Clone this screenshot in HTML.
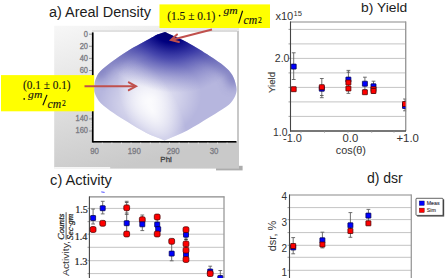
<!DOCTYPE html>
<html><head><meta charset="utf-8"><style>
html,body{margin:0;padding:0;background:#fff;width:445px;height:278px;overflow:hidden;font-family:"Liberation Sans",sans-serif;}
svg{display:block;}
</style></head><body>
<svg width="445" height="278" viewBox="0 0 445 278">
<defs>
 <linearGradient id="gbg" x1="0" y1="0" x2="0.35" y2="1">
  <stop offset="0" stop-color="#f7f7f7"/>
  <stop offset="1" stop-color="#c9c9c9"/>
 </linearGradient>
 <radialGradient id="gdark" cx="0" cy="0" r="1" gradientUnits="userSpaceOnUse" gradientTransform="translate(169 30) rotate(14) scale(76 62)">
  <stop offset="0" stop-color="#00006a" stop-opacity="1"/>
  <stop offset="0.2" stop-color="#00007e" stop-opacity="1"/>
  <stop offset="0.45" stop-color="#181898" stop-opacity="0.7"/>
  <stop offset="0.75" stop-color="#4040a8" stop-opacity="0.3"/>
  <stop offset="1" stop-color="#6060b8" stop-opacity="0"/>
 </radialGradient>
 <radialGradient id="gwhite" cx="0" cy="0" r="1" gradientUnits="userSpaceOnUse" gradientTransform="translate(152 110) rotate(-28) scale(26 56)">
  <stop offset="0" stop-color="#ffffff" stop-opacity="0.85"/>
  <stop offset="0.5" stop-color="#ffffff" stop-opacity="0.45"/>
  <stop offset="1" stop-color="#ffffff" stop-opacity="0"/>
 </radialGradient>
 <radialGradient id="gwhite2" cx="0" cy="0" r="1" gradientUnits="userSpaceOnUse" gradientTransform="translate(150 100) rotate(-15) scale(52 40)">
  <stop offset="0" stop-color="#ffffff" stop-opacity="0.85"/>
  <stop offset="1" stop-color="#ffffff" stop-opacity="0"/>
 </radialGradient>
 <filter id="blur6" x="-20%" y="-20%" width="140%" height="140%"><feGaussianBlur stdDeviation="5"/></filter>
 <clipPath id="clipb"><rect x="290" y="20" width="116" height="115"/></clipPath>
 <clipPath id="clipc"><rect x="89" y="195" width="135" height="90"/></clipPath>
</defs>
<text x="49" y="17" font-family="Liberation Sans" font-size="14" fill="#1c1c1c" text-anchor="start" font-weight="normal" font-style="normal" textLength="102" lengthAdjust="spacingAndGlyphs" >a) Areal Density</text>
<rect x="216" y="165.8" width="26.6" height="4.6" fill="#adadad" />
<rect x="54.2" y="25.8" width="184.8" height="142.8" fill="url(#gbg)" />
<rect x="54.2" y="167.2" width="56" height="1.4" fill="#ffffff" />
<rect x="92.5" y="32" width="144.5" height="110" fill="#ffffff" />
<line x1="92" y1="31" x2="237" y2="31" stroke="#d0d0d0" stroke-width="1" />
<rect x="237" y="31" width="2" height="111" fill="#c8c8c8" />
<clipPath id="clipd"><path d="M165,32 C167.00,32.93 167.25,33.03 171,34.8 C174.75,36.57 181.05,39.07 187.5,42.6 C193.95,46.13 203.57,52.07 209.7,56 C215.83,59.93 220.53,63.03 224.3,66.2 C228.07,69.37 230.32,71.70 232.3,75 C234.28,78.30 235.58,82.87 236.2,86 C236.82,89.13 236.88,91.02 236,93.8 C235.12,96.58 233.37,100.00 230.9,102.7 C228.43,105.40 224.98,107.43 221.2,110 C217.42,112.57 213.77,114.73 208.2,118.1 C202.63,121.47 195.08,126.48 187.8,130.2 C180.52,133.92 172.27,137.00 164.5,140.4 C158.33,137.83 152.25,135.85 146,132.7 C139.75,129.55 132.40,124.77 127,121.5 C121.60,118.23 118.00,116.18 113.6,113.1 C109.20,110.02 103.72,106.25 100.6,103 C97.48,99.75 95.97,96.27 94.9,93.6 C93.83,90.93 94.07,89.42 94.2,87 C94.33,84.58 94.65,81.77 95.7,79.1 C96.75,76.43 97.40,74.18 100.5,71 C103.60,67.82 109.18,63.70 114.3,60 C119.42,56.30 124.63,52.73 131.2,48.8 C137.77,44.87 149.07,38.87 153.7,36.4 C158.33,33.93 157.12,34.73 159,34 C160.88,33.27 163.00,32.67 165,32 Z"/></clipPath>
<path d="M165,32 C167.00,32.93 167.25,33.03 171,34.8 C174.75,36.57 181.05,39.07 187.5,42.6 C193.95,46.13 203.57,52.07 209.7,56 C215.83,59.93 220.53,63.03 224.3,66.2 C228.07,69.37 230.32,71.70 232.3,75 C234.28,78.30 235.58,82.87 236.2,86 C236.82,89.13 236.88,91.02 236,93.8 C235.12,96.58 233.37,100.00 230.9,102.7 C228.43,105.40 224.98,107.43 221.2,110 C217.42,112.57 213.77,114.73 208.2,118.1 C202.63,121.47 195.08,126.48 187.8,130.2 C180.52,133.92 172.27,137.00 164.5,140.4 C158.33,137.83 152.25,135.85 146,132.7 C139.75,129.55 132.40,124.77 127,121.5 C121.60,118.23 118.00,116.18 113.6,113.1 C109.20,110.02 103.72,106.25 100.6,103 C97.48,99.75 95.97,96.27 94.9,93.6 C93.83,90.93 94.07,89.42 94.2,87 C94.33,84.58 94.65,81.77 95.7,79.1 C96.75,76.43 97.40,74.18 100.5,71 C103.60,67.82 109.18,63.70 114.3,60 C119.42,56.30 124.63,52.73 131.2,48.8 C137.77,44.87 149.07,38.87 153.7,36.4 C158.33,33.93 157.12,34.73 159,34 C160.88,33.27 163.00,32.67 165,32 Z" fill="#b6b6de"/>
<path d="M165,32 C167.00,32.93 167.25,33.03 171,34.8 C174.75,36.57 181.05,39.07 187.5,42.6 C193.95,46.13 203.57,52.07 209.7,56 C215.83,59.93 220.53,63.03 224.3,66.2 C228.07,69.37 230.32,71.70 232.3,75 C234.28,78.30 235.58,82.87 236.2,86 C236.82,89.13 236.88,91.02 236,93.8 C235.12,96.58 233.37,100.00 230.9,102.7 C228.43,105.40 224.98,107.43 221.2,110 C217.42,112.57 213.77,114.73 208.2,118.1 C202.63,121.47 195.08,126.48 187.8,130.2 C180.52,133.92 172.27,137.00 164.5,140.4 C158.33,137.83 152.25,135.85 146,132.7 C139.75,129.55 132.40,124.77 127,121.5 C121.60,118.23 118.00,116.18 113.6,113.1 C109.20,110.02 103.72,106.25 100.6,103 C97.48,99.75 95.97,96.27 94.9,93.6 C93.83,90.93 94.07,89.42 94.2,87 C94.33,84.58 94.65,81.77 95.7,79.1 C96.75,76.43 97.40,74.18 100.5,71 C103.60,67.82 109.18,63.70 114.3,60 C119.42,56.30 124.63,52.73 131.2,48.8 C137.77,44.87 149.07,38.87 153.7,36.4 C158.33,33.93 157.12,34.73 159,34 C160.88,33.27 163.00,32.67 165,32 Z" fill="url(#gwhite2)"/>
<path d="M165,32 C167.00,32.93 167.25,33.03 171,34.8 C174.75,36.57 181.05,39.07 187.5,42.6 C193.95,46.13 203.57,52.07 209.7,56 C215.83,59.93 220.53,63.03 224.3,66.2 C228.07,69.37 230.32,71.70 232.3,75 C234.28,78.30 235.58,82.87 236.2,86 C236.82,89.13 236.88,91.02 236,93.8 C235.12,96.58 233.37,100.00 230.9,102.7 C228.43,105.40 224.98,107.43 221.2,110 C217.42,112.57 213.77,114.73 208.2,118.1 C202.63,121.47 195.08,126.48 187.8,130.2 C180.52,133.92 172.27,137.00 164.5,140.4 C158.33,137.83 152.25,135.85 146,132.7 C139.75,129.55 132.40,124.77 127,121.5 C121.60,118.23 118.00,116.18 113.6,113.1 C109.20,110.02 103.72,106.25 100.6,103 C97.48,99.75 95.97,96.27 94.9,93.6 C93.83,90.93 94.07,89.42 94.2,87 C94.33,84.58 94.65,81.77 95.7,79.1 C96.75,76.43 97.40,74.18 100.5,71 C103.60,67.82 109.18,63.70 114.3,60 C119.42,56.30 124.63,52.73 131.2,48.8 C137.77,44.87 149.07,38.87 153.7,36.4 C158.33,33.93 157.12,34.73 159,34 C160.88,33.27 163.00,32.67 165,32 Z" fill="url(#gwhite)"/>
<g clip-path="url(#clipd)"><path d="M95.7,79.1 C97.30,76.40 97.40,74.18 100.5,71 C103.60,67.82 109.18,63.70 114.3,60 C119.42,56.30 124.63,52.73 131.2,48.8 C137.77,44.87 149.07,38.87 153.7,36.4 C158.33,33.93 157.12,34.73 159,34 C160.88,33.27 163.00,32.67 165,32 C167.00,32.93 167.25,33.03 171,34.8 C174.75,36.57 181.05,39.07 187.5,42.6 C193.95,46.13 203.57,52.07 209.7,56 C215.83,59.93 220.53,63.03 224.3,66.2 C228.07,69.37 230.32,71.70 232.3,75 C234.28,78.30 234.90,82.33 236.2,86" fill="none" stroke="#5050a8" stroke-width="14" opacity="0.5" filter="url(#blur6)"/></g>
<path d="M165,32 C167.00,32.93 167.25,33.03 171,34.8 C174.75,36.57 181.05,39.07 187.5,42.6 C193.95,46.13 203.57,52.07 209.7,56 C215.83,59.93 220.53,63.03 224.3,66.2 C228.07,69.37 230.32,71.70 232.3,75 C234.28,78.30 235.58,82.87 236.2,86 C236.82,89.13 236.88,91.02 236,93.8 C235.12,96.58 233.37,100.00 230.9,102.7 C228.43,105.40 224.98,107.43 221.2,110 C217.42,112.57 213.77,114.73 208.2,118.1 C202.63,121.47 195.08,126.48 187.8,130.2 C180.52,133.92 172.27,137.00 164.5,140.4 C158.33,137.83 152.25,135.85 146,132.7 C139.75,129.55 132.40,124.77 127,121.5 C121.60,118.23 118.00,116.18 113.6,113.1 C109.20,110.02 103.72,106.25 100.6,103 C97.48,99.75 95.97,96.27 94.9,93.6 C93.83,90.93 94.07,89.42 94.2,87 C94.33,84.58 94.65,81.77 95.7,79.1 C96.75,76.43 97.40,74.18 100.5,71 C103.60,67.82 109.18,63.70 114.3,60 C119.42,56.30 124.63,52.73 131.2,48.8 C137.77,44.87 149.07,38.87 153.7,36.4 C158.33,33.93 157.12,34.73 159,34 C160.88,33.27 163.00,32.67 165,32 Z" fill="url(#gdark)"/>
<rect x="91.9" y="32.4" width="1.7" height="110.2" fill="#000" />
<rect x="92" y="141" width="144.5" height="1.6" fill="#000" />
<line x1="89" y1="34.2" x2="92" y2="34.2" stroke="#808080" stroke-width="0.8" />
<line x1="90.3" y1="36.620000000000005" x2="92" y2="36.620000000000005" stroke="#e4e4e4" stroke-width="0.7" />
<line x1="90.3" y1="39.040000000000006" x2="92" y2="39.040000000000006" stroke="#e4e4e4" stroke-width="0.7" />
<line x1="90.3" y1="41.46" x2="92" y2="41.46" stroke="#e4e4e4" stroke-width="0.7" />
<line x1="90.3" y1="43.88" x2="92" y2="43.88" stroke="#e4e4e4" stroke-width="0.7" />
<line x1="89" y1="46.300000000000004" x2="92" y2="46.300000000000004" stroke="#808080" stroke-width="0.8" />
<line x1="90.3" y1="48.72" x2="92" y2="48.72" stroke="#e4e4e4" stroke-width="0.7" />
<line x1="90.3" y1="51.14" x2="92" y2="51.14" stroke="#e4e4e4" stroke-width="0.7" />
<line x1="90.3" y1="53.56" x2="92" y2="53.56" stroke="#e4e4e4" stroke-width="0.7" />
<line x1="90.3" y1="55.980000000000004" x2="92" y2="55.980000000000004" stroke="#e4e4e4" stroke-width="0.7" />
<line x1="89" y1="58.400000000000006" x2="92" y2="58.400000000000006" stroke="#808080" stroke-width="0.8" />
<line x1="90.3" y1="60.82" x2="92" y2="60.82" stroke="#e4e4e4" stroke-width="0.7" />
<line x1="90.3" y1="63.24" x2="92" y2="63.24" stroke="#e4e4e4" stroke-width="0.7" />
<line x1="90.3" y1="65.66" x2="92" y2="65.66" stroke="#e4e4e4" stroke-width="0.7" />
<line x1="90.3" y1="68.08" x2="92" y2="68.08" stroke="#e4e4e4" stroke-width="0.7" />
<line x1="89" y1="70.5" x2="92" y2="70.5" stroke="#808080" stroke-width="0.8" />
<line x1="90.3" y1="72.92" x2="92" y2="72.92" stroke="#e4e4e4" stroke-width="0.7" />
<line x1="90.3" y1="75.34" x2="92" y2="75.34" stroke="#e4e4e4" stroke-width="0.7" />
<line x1="90.3" y1="77.76" x2="92" y2="77.76" stroke="#e4e4e4" stroke-width="0.7" />
<line x1="90.3" y1="80.18" x2="92" y2="80.18" stroke="#e4e4e4" stroke-width="0.7" />
<line x1="89" y1="82.6" x2="92" y2="82.6" stroke="#808080" stroke-width="0.8" />
<line x1="90.3" y1="85.02000000000001" x2="92" y2="85.02000000000001" stroke="#e4e4e4" stroke-width="0.7" />
<line x1="90.3" y1="87.44" x2="92" y2="87.44" stroke="#e4e4e4" stroke-width="0.7" />
<line x1="90.3" y1="89.86" x2="92" y2="89.86" stroke="#e4e4e4" stroke-width="0.7" />
<line x1="90.3" y1="92.28" x2="92" y2="92.28" stroke="#e4e4e4" stroke-width="0.7" />
<line x1="89" y1="94.7" x2="92" y2="94.7" stroke="#808080" stroke-width="0.8" />
<line x1="90.3" y1="97.12" x2="92" y2="97.12" stroke="#e4e4e4" stroke-width="0.7" />
<line x1="90.3" y1="99.54" x2="92" y2="99.54" stroke="#e4e4e4" stroke-width="0.7" />
<line x1="90.3" y1="101.96" x2="92" y2="101.96" stroke="#e4e4e4" stroke-width="0.7" />
<line x1="90.3" y1="104.38" x2="92" y2="104.38" stroke="#e4e4e4" stroke-width="0.7" />
<line x1="89" y1="106.8" x2="92" y2="106.8" stroke="#808080" stroke-width="0.8" />
<line x1="90.3" y1="109.22" x2="92" y2="109.22" stroke="#e4e4e4" stroke-width="0.7" />
<line x1="90.3" y1="111.64" x2="92" y2="111.64" stroke="#e4e4e4" stroke-width="0.7" />
<line x1="90.3" y1="114.06" x2="92" y2="114.06" stroke="#e4e4e4" stroke-width="0.7" />
<line x1="90.3" y1="116.48" x2="92" y2="116.48" stroke="#e4e4e4" stroke-width="0.7" />
<line x1="89" y1="118.9" x2="92" y2="118.9" stroke="#808080" stroke-width="0.8" />
<line x1="90.3" y1="121.32000000000001" x2="92" y2="121.32000000000001" stroke="#e4e4e4" stroke-width="0.7" />
<line x1="90.3" y1="123.74" x2="92" y2="123.74" stroke="#e4e4e4" stroke-width="0.7" />
<line x1="90.3" y1="126.16" x2="92" y2="126.16" stroke="#e4e4e4" stroke-width="0.7" />
<line x1="90.3" y1="128.57999999999998" x2="92" y2="128.57999999999998" stroke="#e4e4e4" stroke-width="0.7" />
<line x1="89" y1="131.0" x2="92" y2="131.0" stroke="#808080" stroke-width="0.8" />
<text x="88" y="36.6" font-family="Liberation Sans" font-size="8.4" fill="#7c7c84" text-anchor="end" font-weight="normal" font-style="normal" textLength="4.15" lengthAdjust="spacingAndGlyphs" stroke="#7c7c84" stroke-width="0.35">0</text>
<text x="88" y="48.7" font-family="Liberation Sans" font-size="8.4" fill="#7c7c84" text-anchor="end" font-weight="normal" font-style="normal" textLength="8.3" lengthAdjust="spacingAndGlyphs" stroke="#7c7c84" stroke-width="0.35">20</text>
<text x="88" y="60.8" font-family="Liberation Sans" font-size="8.4" fill="#7c7c84" text-anchor="end" font-weight="normal" font-style="normal" textLength="8.3" lengthAdjust="spacingAndGlyphs" stroke="#7c7c84" stroke-width="0.35">40</text>
<text x="88" y="72.9" font-family="Liberation Sans" font-size="8.4" fill="#7c7c84" text-anchor="end" font-weight="normal" font-style="normal" textLength="8.3" lengthAdjust="spacingAndGlyphs" stroke="#7c7c84" stroke-width="0.35">60</text>
<text x="88" y="85.0" font-family="Liberation Sans" font-size="8.4" fill="#7c7c84" text-anchor="end" font-weight="normal" font-style="normal" textLength="8.3" lengthAdjust="spacingAndGlyphs" stroke="#7c7c84" stroke-width="0.35">80</text>
<text x="88" y="97.1" font-family="Liberation Sans" font-size="8.4" fill="#7c7c84" text-anchor="end" font-weight="normal" font-style="normal" textLength="12.45" lengthAdjust="spacingAndGlyphs" stroke="#7c7c84" stroke-width="0.35">100</text>
<text x="88" y="109.19999999999999" font-family="Liberation Sans" font-size="8.4" fill="#7c7c84" text-anchor="end" font-weight="normal" font-style="normal" textLength="12.45" lengthAdjust="spacingAndGlyphs" stroke="#7c7c84" stroke-width="0.35">120</text>
<text x="88" y="121.30000000000001" font-family="Liberation Sans" font-size="8.4" fill="#7c7c84" text-anchor="end" font-weight="normal" font-style="normal" textLength="12.45" lengthAdjust="spacingAndGlyphs" stroke="#7c7c84" stroke-width="0.35">140</text>
<text x="88" y="133.4" font-family="Liberation Sans" font-size="8.4" fill="#7c7c84" text-anchor="end" font-weight="normal" font-style="normal" textLength="12.45" lengthAdjust="spacingAndGlyphs" stroke="#7c7c84" stroke-width="0.35">160</text>
<text x="94.5" y="154.2" font-family="Liberation Sans" font-size="9.4" fill="#7c7c84" text-anchor="middle" font-weight="normal" font-style="normal" textLength="8.7" lengthAdjust="spacingAndGlyphs" stroke="#7c7c84" stroke-width="0.35">90</text>
<text x="134.3" y="154.2" font-family="Liberation Sans" font-size="9.4" fill="#7c7c84" text-anchor="middle" font-weight="normal" font-style="normal" textLength="13.05" lengthAdjust="spacingAndGlyphs" stroke="#7c7c84" stroke-width="0.35">190</text>
<text x="173.2" y="154.2" font-family="Liberation Sans" font-size="9.4" fill="#7c7c84" text-anchor="middle" font-weight="normal" font-style="normal" textLength="13.05" lengthAdjust="spacingAndGlyphs" stroke="#7c7c84" stroke-width="0.35">290</text>
<text x="214" y="154.2" font-family="Liberation Sans" font-size="9.4" fill="#7c7c84" text-anchor="middle" font-weight="normal" font-style="normal" textLength="8.7" lengthAdjust="spacingAndGlyphs" stroke="#7c7c84" stroke-width="0.35">30</text>
<line x1="92.7" y1="142.6" x2="92.7" y2="144.2" stroke="#e8e8e8" stroke-width="0.8" />
<line x1="102.3" y1="142.6" x2="102.3" y2="144.2" stroke="#e8e8e8" stroke-width="0.8" />
<line x1="111.9" y1="142.6" x2="111.9" y2="144.2" stroke="#e8e8e8" stroke-width="0.8" />
<line x1="121.5" y1="142.6" x2="121.5" y2="144.2" stroke="#e8e8e8" stroke-width="0.8" />
<line x1="131.1" y1="142.6" x2="131.1" y2="144.2" stroke="#e8e8e8" stroke-width="0.8" />
<line x1="140.7" y1="142.6" x2="140.7" y2="144.2" stroke="#e8e8e8" stroke-width="0.8" />
<line x1="150.3" y1="142.6" x2="150.3" y2="144.2" stroke="#e8e8e8" stroke-width="0.8" />
<line x1="159.9" y1="142.6" x2="159.9" y2="144.2" stroke="#e8e8e8" stroke-width="0.8" />
<line x1="169.5" y1="142.6" x2="169.5" y2="144.2" stroke="#e8e8e8" stroke-width="0.8" />
<line x1="179.1" y1="142.6" x2="179.1" y2="144.2" stroke="#e8e8e8" stroke-width="0.8" />
<line x1="188.7" y1="142.6" x2="188.7" y2="144.2" stroke="#e8e8e8" stroke-width="0.8" />
<line x1="198.3" y1="142.6" x2="198.3" y2="144.2" stroke="#e8e8e8" stroke-width="0.8" />
<line x1="207.89999999999998" y1="142.6" x2="207.89999999999998" y2="144.2" stroke="#e8e8e8" stroke-width="0.8" />
<line x1="217.5" y1="142.6" x2="217.5" y2="144.2" stroke="#e8e8e8" stroke-width="0.8" />
<line x1="227.10000000000002" y1="142.6" x2="227.10000000000002" y2="144.2" stroke="#e8e8e8" stroke-width="0.8" />
<text x="166.1" y="162.2" font-family="Liberation Sans" font-size="7.8" fill="#444" text-anchor="middle" font-weight="normal" font-style="normal" textLength="11.5" lengthAdjust="spacingAndGlyphs" stroke="#444" stroke-width="0.3">Phi</text>
<rect x="159.5" y="4.4" width="110.5" height="23.6" fill="#ffff00" />
<rect x="1" y="75.1" width="93.2" height="36.2" fill="#ffff00" />
<line x1="212" y1="29.5" x2="172.16248404531743" y2="39.702290671321144" stroke="#c0504d" stroke-width="2.1" />
<path d="M177.01,34.44 L171.00,40.00 L178.94,41.99" fill="none" stroke="#c0504d" stroke-width="2" stroke-linejoin="miter" stroke-linecap="round"/>
<line x1="84.5" y1="86.3" x2="134.8" y2="86.3" stroke="#c0504d" stroke-width="2.1" />
<path d="M128.80,90.20 L136.00,86.30 L128.80,82.40" fill="none" stroke="#c0504d" stroke-width="2" stroke-linejoin="miter" stroke-linecap="round"/>
<text x="167.2" y="20.2" font-family="Liberation Serif" font-size="12" fill="#121212" text-anchor="start" font-weight="normal" font-style="normal" textLength="48.2" lengthAdjust="spacingAndGlyphs" stroke="#121212" stroke-width="0.12">(1.5 ± 0.1)</text>
<circle cx="219.6" cy="15.6" r="0.85" fill="#121212"/>
<text x="223.4" y="13.6" font-family="Liberation Serif" font-size="10.8" fill="#121212" text-anchor="start" font-weight="normal" font-style="italic" textLength="14.2" lengthAdjust="spacingAndGlyphs" stroke="#121212" stroke-width="0.12">gm</text>
<line x1="242.6" y1="10.8" x2="238.6" y2="23.4" stroke="#121212" stroke-width="1.2" />
<text x="243.6" y="24.3" font-family="Liberation Serif" font-size="12.2" fill="#121212" text-anchor="start" font-weight="normal" font-style="italic" textLength="13.6" lengthAdjust="spacingAndGlyphs" stroke="#121212" stroke-width="0.12">cm</text>
<text x="257.9" y="23.4" font-family="Liberation Serif" font-size="8" fill="#121212" text-anchor="start" font-weight="normal" font-style="normal" textLength="3.8" lengthAdjust="spacingAndGlyphs" stroke="#121212" stroke-width="0.12">2</text>
<text x="23.1" y="89.2" font-family="Liberation Serif" font-size="12" fill="#121212" text-anchor="start" font-weight="normal" font-style="normal" textLength="47.5" lengthAdjust="spacingAndGlyphs" stroke="#121212" stroke-width="0.12">(0.1 ± 0.1)</text>
<circle cx="24.2" cy="98.9" r="0.85" fill="#121212"/>
<text x="28.1" y="97.7" font-family="Liberation Serif" font-size="10.8" fill="#121212" text-anchor="start" font-weight="normal" font-style="italic" textLength="14.2" lengthAdjust="spacingAndGlyphs" stroke="#121212" stroke-width="0.12">gm</text>
<line x1="47" y1="94.9" x2="42.9" y2="105.2" stroke="#121212" stroke-width="1.2" />
<text x="47.6" y="108.2" font-family="Liberation Serif" font-size="12.2" fill="#121212" text-anchor="start" font-weight="normal" font-style="italic" textLength="13.6" lengthAdjust="spacingAndGlyphs" stroke="#121212" stroke-width="0.12">cm</text>
<text x="61.9" y="106.4" font-family="Liberation Serif" font-size="8" fill="#121212" text-anchor="start" font-weight="normal" font-style="normal" textLength="3.8" lengthAdjust="spacingAndGlyphs" stroke="#121212" stroke-width="0.12">2</text>
<text x="361" y="11.8" font-family="Liberation Sans" font-size="13" fill="#1c1c1c" text-anchor="start" font-weight="normal" font-style="normal" textLength="46.2" lengthAdjust="spacingAndGlyphs" >b) Yield</text>
<text x="275.4" y="20.4" font-family="Liberation Sans" font-size="10.5" fill="#333" text-anchor="start" font-weight="normal" font-style="normal" textLength="17.9" lengthAdjust="spacingAndGlyphs" >x10</text>
<text x="293.5" y="16.3" font-family="Liberation Sans" font-size="7" fill="#333" text-anchor="start" font-weight="normal" font-style="normal" textLength="8.5" lengthAdjust="spacingAndGlyphs" >15</text>
<rect x="290.5" y="21.5" width="115.5" height="109.5" fill="#ffffff" />
<line x1="290.5" y1="29.4" x2="405.5" y2="29.4" stroke="#c4c4c4" stroke-width="1" />
<line x1="288.5" y1="29.4" x2="290.5" y2="29.4" stroke="#888" stroke-width="0.8" />
<line x1="290.5" y1="43.9" x2="405.5" y2="43.9" stroke="#c4c4c4" stroke-width="1" />
<line x1="288.5" y1="43.9" x2="290.5" y2="43.9" stroke="#888" stroke-width="0.8" />
<line x1="290.5" y1="58.4" x2="405.5" y2="58.4" stroke="#c4c4c4" stroke-width="1" />
<line x1="288.5" y1="58.4" x2="290.5" y2="58.4" stroke="#888" stroke-width="0.8" />
<line x1="290.5" y1="72.9" x2="405.5" y2="72.9" stroke="#c4c4c4" stroke-width="1" />
<line x1="288.5" y1="72.9" x2="290.5" y2="72.9" stroke="#888" stroke-width="0.8" />
<line x1="290.5" y1="87.4" x2="405.5" y2="87.4" stroke="#c4c4c4" stroke-width="1" />
<line x1="288.5" y1="87.4" x2="290.5" y2="87.4" stroke="#888" stroke-width="0.8" />
<line x1="290.5" y1="101.9" x2="405.5" y2="101.9" stroke="#c4c4c4" stroke-width="1" />
<line x1="288.5" y1="101.9" x2="290.5" y2="101.9" stroke="#888" stroke-width="0.8" />
<line x1="290.5" y1="116.4" x2="405.5" y2="116.4" stroke="#c4c4c4" stroke-width="1" />
<line x1="288.5" y1="116.4" x2="290.5" y2="116.4" stroke="#888" stroke-width="0.8" />
<line x1="290" y1="22" x2="406" y2="22" stroke="#8a8a8a" stroke-width="1.2" />
<line x1="405.7" y1="21.5" x2="405.7" y2="131" stroke="#9a9a9a" stroke-width="1.4" />
<line x1="290.5" y1="21.5" x2="290.5" y2="131.5" stroke="#444" stroke-width="1.1" />
<line x1="290" y1="131" x2="406" y2="131" stroke="#4a4a4a" stroke-width="1.4" />
<line x1="301" y1="131" x2="301" y2="133" stroke="#999" stroke-width="0.6" />
<line x1="324.5" y1="131" x2="324.5" y2="133" stroke="#999" stroke-width="0.6" />
<line x1="348" y1="131" x2="348" y2="133" stroke="#999" stroke-width="0.6" />
<line x1="371.7" y1="131" x2="371.7" y2="133" stroke="#999" stroke-width="0.6" />
<line x1="394" y1="131" x2="394" y2="133" stroke="#999" stroke-width="0.6" />
<text x="289.5" y="61.6" font-family="Liberation Sans" font-size="10.5" fill="#333" text-anchor="end" font-weight="normal" font-style="normal" textLength="14.7" lengthAdjust="spacingAndGlyphs" >2.0</text>
<text x="287.5" y="135.8" font-family="Liberation Sans" font-size="10.5" fill="#333" text-anchor="end" font-weight="normal" font-style="normal" textLength="14.5" lengthAdjust="spacingAndGlyphs" >1.0</text>
<text x="283" y="141.8" font-family="Liberation Sans" font-size="10.5" fill="#333" text-anchor="start" font-weight="normal" font-style="normal" textLength="19" lengthAdjust="spacingAndGlyphs" >-1.0</text>
<text x="342.5" y="142.4" font-family="Liberation Sans" font-size="10.5" fill="#333" text-anchor="start" font-weight="normal" font-style="normal" textLength="15.7" lengthAdjust="spacingAndGlyphs" >0.0</text>
<text x="396.4" y="142.4" font-family="Liberation Sans" font-size="10.5" fill="#333" text-anchor="start" font-weight="normal" font-style="normal" textLength="22.5" lengthAdjust="spacingAndGlyphs" >+1.0</text>
<text x="335.7" y="153.8" font-family="Liberation Sans" font-size="11" fill="#333" text-anchor="start" font-weight="normal" font-style="normal" textLength="30.3" lengthAdjust="spacingAndGlyphs" >cos(θ)</text>
<text x="0" y="0" font-family="Liberation Sans" font-size="9.5" fill="#444" stroke="#444" stroke-width="0.15" text-anchor="middle" textLength="20.9" lengthAdjust="spacingAndGlyphs" transform="translate(274.9,82.5) rotate(-90)">Yield</text>
<g clip-path="url(#clipb)">
<line x1="293.7" y1="52.8" x2="293.7" y2="79.5" stroke="#606060" stroke-width="0.9" />
<line x1="291.8" y1="52.8" x2="295.59999999999997" y2="52.8" stroke="#606060" stroke-width="0.9" />
<line x1="291.8" y1="79.5" x2="295.59999999999997" y2="79.5" stroke="#606060" stroke-width="0.9" />
<rect x="291.20" y="64.10" width="5" height="5" rx="0.3" fill="#0000ff" stroke="#00004a" stroke-width="0.75"/>
<rect x="291.20" y="86.70" width="5" height="5" rx="0.3" fill="#ff0000" stroke="#4a0000" stroke-width="0.75"/>
<line x1="321.8" y1="78.5" x2="321.8" y2="97.7" stroke="#606060" stroke-width="0.9" />
<line x1="319.90000000000003" y1="78.5" x2="323.7" y2="78.5" stroke="#606060" stroke-width="0.9" />
<line x1="319.90000000000003" y1="97.7" x2="323.7" y2="97.7" stroke="#606060" stroke-width="0.9" />
<line x1="320" y1="95.5" x2="323.6" y2="95.5" stroke="#555" stroke-width="0.9" />
<rect x="319.30" y="86.20" width="5" height="5" rx="0.3" fill="#0000ff" stroke="#00004a" stroke-width="0.75"/>
<rect x="319.30" y="84.70" width="5" height="5" rx="0.3" fill="#ff0000" stroke="#4a0000" stroke-width="0.75"/>
<line x1="348.4" y1="70.4" x2="348.4" y2="93.4" stroke="#606060" stroke-width="0.9" />
<line x1="346.5" y1="70.4" x2="350.29999999999995" y2="70.4" stroke="#606060" stroke-width="0.9" />
<line x1="346.5" y1="93.4" x2="350.29999999999995" y2="93.4" stroke="#606060" stroke-width="0.9" />
<line x1="346.6" y1="72.2" x2="350.2" y2="72.2" stroke="#555" stroke-width="0.9" />
<rect x="345.90" y="77.10" width="5" height="5" rx="0.3" fill="#0000ff" stroke="#00004a" stroke-width="0.75"/>
<rect x="345.90" y="80.00" width="5" height="5" rx="0.3" fill="#ff0000" stroke="#4a0000" stroke-width="0.75"/>
<rect x="345.90" y="86.00" width="5" height="5" rx="0.3" fill="#ff0000" stroke="#4a0000" stroke-width="0.75"/>
<line x1="364.9" y1="77.2" x2="364.9" y2="90" stroke="#606060" stroke-width="0.9" />
<line x1="363.0" y1="77.2" x2="366.79999999999995" y2="77.2" stroke="#606060" stroke-width="0.9" />
<line x1="363.0" y1="90" x2="366.79999999999995" y2="90" stroke="#606060" stroke-width="0.9" />
<rect x="362.40" y="81.20" width="5" height="5" rx="0.3" fill="#0000ff" stroke="#00004a" stroke-width="0.75"/>
<rect x="362.40" y="89.70" width="5" height="5" rx="0.3" fill="#ff0000" stroke="#4a0000" stroke-width="0.75"/>
<line x1="373.5" y1="81.2" x2="373.5" y2="93.2" stroke="#606060" stroke-width="0.9" />
<line x1="371.6" y1="81.2" x2="375.4" y2="81.2" stroke="#606060" stroke-width="0.9" />
<line x1="371.6" y1="93.2" x2="375.4" y2="93.2" stroke="#606060" stroke-width="0.9" />
<rect x="371.00" y="83.80" width="5" height="5" rx="0.3" fill="#0000ff" stroke="#00004a" stroke-width="0.75"/>
<rect x="371.00" y="86.70" width="5" height="5" rx="0.3" fill="#ff0000" stroke="#4a0000" stroke-width="0.75"/>
<rect x="371.00" y="88.50" width="5" height="5" rx="0.3" fill="#ff0000" stroke="#4a0000" stroke-width="0.75"/>
<line x1="405" y1="99" x2="405" y2="110.8" stroke="#606060" stroke-width="0.9" />
<line x1="403.1" y1="99" x2="406.9" y2="99" stroke="#606060" stroke-width="0.9" />
<line x1="403.1" y1="110.8" x2="406.9" y2="110.8" stroke="#606060" stroke-width="0.9" />
<rect x="402.50" y="103.50" width="5" height="5" rx="0.3" fill="#0000ff" stroke="#00004a" stroke-width="0.75"/>
<rect x="402.50" y="101.50" width="5" height="5" rx="0.3" fill="#ff0000" stroke="#4a0000" stroke-width="0.75"/>
</g>
<line x1="405.7" y1="98" x2="405.7" y2="112" stroke="#9a9a9a" stroke-width="0.6" />
<text x="50.1" y="185.2" font-family="Liberation Sans" font-size="14" fill="#1c1c1c" text-anchor="start" font-weight="normal" font-style="normal" textLength="61.8" lengthAdjust="spacingAndGlyphs" >c) Activity</text>
<line x1="101.3" y1="191.9" x2="104.6" y2="192.4" stroke="#3a3aff" stroke-width="0.9" />
<rect x="89.4" y="196.8" width="134.6" height="90" fill="#ffffff" />
<line x1="89.4" y1="208.4" x2="224" y2="208.4" stroke="#c4c4c4" stroke-width="1" />
<line x1="87.5" y1="208.4" x2="89.4" y2="208.4" stroke="#888" stroke-width="0.8" />
<line x1="89.4" y1="221.6" x2="224" y2="221.6" stroke="#c4c4c4" stroke-width="1" />
<line x1="87.5" y1="221.6" x2="89.4" y2="221.6" stroke="#888" stroke-width="0.8" />
<line x1="89.4" y1="234.2" x2="224" y2="234.2" stroke="#c4c4c4" stroke-width="1" />
<line x1="87.5" y1="234.2" x2="89.4" y2="234.2" stroke="#888" stroke-width="0.8" />
<line x1="89.4" y1="247.3" x2="224" y2="247.3" stroke="#c4c4c4" stroke-width="1" />
<line x1="87.5" y1="247.3" x2="89.4" y2="247.3" stroke="#888" stroke-width="0.8" />
<line x1="89.4" y1="260.7" x2="224" y2="260.7" stroke="#c4c4c4" stroke-width="1" />
<line x1="87.5" y1="260.7" x2="89.4" y2="260.7" stroke="#888" stroke-width="0.8" />
<line x1="89.4" y1="273.6" x2="224" y2="273.6" stroke="#c4c4c4" stroke-width="1" />
<line x1="87.5" y1="273.6" x2="89.4" y2="273.6" stroke="#888" stroke-width="0.8" />
<line x1="89" y1="196.8" x2="224.5" y2="196.8" stroke="#8a8a8a" stroke-width="1.2" />
<line x1="224" y1="196.5" x2="224" y2="278" stroke="#9a9a9a" stroke-width="1.3" />
<line x1="89.4" y1="196.5" x2="89.4" y2="278" stroke="#444" stroke-width="1.1" />
<text x="87.8" y="212.7" font-family="Liberation Serif" font-size="10.3" fill="#222" text-anchor="end" font-weight="normal" font-style="normal" textLength="12.6" lengthAdjust="spacingAndGlyphs" stroke="#222" stroke-width="0.2">1.5</text>
<text x="87.4" y="239.9" font-family="Liberation Serif" font-size="10.3" fill="#222" text-anchor="end" font-weight="normal" font-style="normal" textLength="12.7" lengthAdjust="spacingAndGlyphs" stroke="#222" stroke-width="0.2">1.4</text>
<text x="87.5" y="265.2" font-family="Liberation Serif" font-size="10.3" fill="#222" text-anchor="end" font-weight="normal" font-style="normal" textLength="13" lengthAdjust="spacingAndGlyphs" stroke="#222" stroke-width="0.2">1.3</text>
<g transform="translate(69.4,276) rotate(-90)"><text x="0" y="0" font-family="Liberation Sans" font-size="9.8" fill="#333" textLength="35" lengthAdjust="spacingAndGlyphs">Activity,</text><text x="36.3" y="-5.4" font-family="Liberation Serif" font-style="italic" font-size="7.8" fill="#222" stroke="#222" stroke-width="0.25" textLength="26" lengthAdjust="spacingAndGlyphs">Counts</text><line x1="36.3" y1="-3.3" x2="63.8" y2="-3.3" stroke="#333" stroke-width="0.8"/><text x="36.3" y="3.2" font-family="Liberation Serif" font-style="italic" font-size="7.8" fill="#222" stroke="#222" stroke-width="0.25" textLength="26" lengthAdjust="spacingAndGlyphs">Sec·gm</text></g>
<g clip-path="url(#clipc)">
<line x1="93.1" y1="209" x2="93.1" y2="224" stroke="#606060" stroke-width="0.9" />
<line x1="91.19999999999999" y1="209" x2="95.0" y2="209" stroke="#606060" stroke-width="0.9" />
<line x1="91.19999999999999" y1="224" x2="95.0" y2="224" stroke="#606060" stroke-width="0.9" />
<rect x="90.60" y="215.50" width="5.0" height="5.0" rx="0.5" fill="#0000ff" stroke="#00004a" stroke-width="0.75"/>
<rect x="90.20" y="226.60" width="5.8" height="5.8" rx="1.6" fill="#ff0000" stroke="#4a0000" stroke-width="0.75"/>
<line x1="102.7" y1="201.3" x2="102.7" y2="213.9" stroke="#606060" stroke-width="0.9" />
<line x1="100.8" y1="201.3" x2="104.60000000000001" y2="201.3" stroke="#606060" stroke-width="0.9" />
<line x1="100.8" y1="213.9" x2="104.60000000000001" y2="213.9" stroke="#606060" stroke-width="0.9" />
<rect x="100.20" y="205.70" width="5.0" height="5.0" rx="0.5" fill="#0000ff" stroke="#00004a" stroke-width="0.75"/>
<rect x="99.80" y="220.40" width="5.8" height="5.8" rx="1.6" fill="#ff0000" stroke="#4a0000" stroke-width="0.75"/>
<line x1="126.7" y1="201.3" x2="126.7" y2="214.4" stroke="#606060" stroke-width="0.9" />
<line x1="124.8" y1="201.3" x2="128.6" y2="201.3" stroke="#606060" stroke-width="0.9" />
<line x1="124.8" y1="214.4" x2="128.6" y2="214.4" stroke="#606060" stroke-width="0.9" />
<line x1="124.9" y1="202.5" x2="128.5" y2="202.5" stroke="#555" stroke-width="0.9" />
<line x1="124.9" y1="213" x2="128.5" y2="213" stroke="#555" stroke-width="0.9" />
<line x1="126.7" y1="214" x2="126.7" y2="232" stroke="#555" stroke-width="0.9" />
<rect x="123.80" y="204.90" width="5.8" height="5.8" rx="1.6" fill="#ff0000" stroke="#4a0000" stroke-width="0.75"/>
<rect x="124.20" y="220.70" width="5.0" height="5.0" rx="0.5" fill="#0000ff" stroke="#00004a" stroke-width="0.75"/>
<rect x="123.80" y="231.10" width="5.8" height="5.8" rx="1.6" fill="#ff0000" stroke="#4a0000" stroke-width="0.75"/>
<line x1="142.3" y1="215" x2="142.3" y2="230.6" stroke="#606060" stroke-width="0.9" />
<line x1="140.4" y1="215" x2="144.20000000000002" y2="215" stroke="#606060" stroke-width="0.9" />
<line x1="140.4" y1="230.6" x2="144.20000000000002" y2="230.6" stroke="#606060" stroke-width="0.9" />
<rect x="139.40" y="216.80" width="5.8" height="5.8" rx="1.6" fill="#ff0000" stroke="#4a0000" stroke-width="0.75"/>
<rect x="139.80" y="221.80" width="5.0" height="5.0" rx="0.5" fill="#0000ff" stroke="#00004a" stroke-width="0.75"/>
<line x1="157.2" y1="215" x2="157.2" y2="234" stroke="#555" stroke-width="0.9" />
<rect x="154.70" y="222.10" width="5.0" height="5.0" rx="0.5" fill="#0000ff" stroke="#00004a" stroke-width="0.75"/>
<rect x="155.70" y="226.70" width="5.0" height="5.0" rx="0.5" fill="#0000ff" stroke="#00004a" stroke-width="0.75"/>
<rect x="154.30" y="214.10" width="5.8" height="5.8" rx="1.6" fill="#ff0000" stroke="#4a0000" stroke-width="0.75"/>
<rect x="154.30" y="231.10" width="5.8" height="5.8" rx="1.6" fill="#ff0000" stroke="#4a0000" stroke-width="0.75"/>
<line x1="171.7" y1="241" x2="171.7" y2="260.8" stroke="#606060" stroke-width="0.9" />
<line x1="169.79999999999998" y1="241" x2="173.6" y2="241" stroke="#606060" stroke-width="0.9" />
<line x1="169.79999999999998" y1="260.8" x2="173.6" y2="260.8" stroke="#606060" stroke-width="0.9" />
<rect x="168.80" y="238.40" width="5.8" height="5.8" rx="1.6" fill="#ff0000" stroke="#4a0000" stroke-width="0.75"/>
<rect x="169.20" y="251.10" width="5.0" height="5.0" rx="0.5" fill="#0000ff" stroke="#00004a" stroke-width="0.75"/>
<line x1="186" y1="228" x2="186" y2="260" stroke="#555" stroke-width="0.9" />
<line x1="184.2" y1="239.3" x2="187.8" y2="239.3" stroke="#333" stroke-width="1.2" />
<rect x="183.50" y="232.20" width="5.0" height="5.0" rx="0.5" fill="#0000ff" stroke="#00004a" stroke-width="0.75"/>
<rect x="183.10" y="226.80" width="5.8" height="5.8" rx="1.6" fill="#ff0000" stroke="#4a0000" stroke-width="0.75"/>
<rect x="183.50" y="252.10" width="5.0" height="5.0" rx="0.5" fill="#0000ff" stroke="#00004a" stroke-width="0.75"/>
<rect x="183.10" y="241.00" width="5.8" height="5.8" rx="1.6" fill="#ff0000" stroke="#4a0000" stroke-width="0.75"/>
<rect x="183.10" y="247.30" width="5.8" height="5.8" rx="1.6" fill="#ff0000" stroke="#4a0000" stroke-width="0.75"/>
<rect x="183.10" y="256.60" width="5.8" height="5.8" rx="1.6" fill="#ff0000" stroke="#4a0000" stroke-width="0.75"/>
<line x1="210.2" y1="266.2" x2="210.2" y2="275" stroke="#606060" stroke-width="0.9" />
<line x1="208.29999999999998" y1="266.2" x2="212.1" y2="266.2" stroke="#606060" stroke-width="0.9" />
<line x1="208.29999999999998" y1="275" x2="212.1" y2="275" stroke="#606060" stroke-width="0.9" />
<rect x="207.70" y="269.00" width="5.0" height="5.0" rx="0.5" fill="#0000ff" stroke="#00004a" stroke-width="0.75"/>
<rect x="207.30" y="270.70" width="5.8" height="5.8" rx="1.6" fill="#ff0000" stroke="#4a0000" stroke-width="0.75"/>
<line x1="220.3" y1="270.5" x2="220.3" y2="280" stroke="#606060" stroke-width="0.9" />
<line x1="218.4" y1="270.5" x2="222.20000000000002" y2="270.5" stroke="#606060" stroke-width="0.9" />
<line x1="218.4" y1="280" x2="222.20000000000002" y2="280" stroke="#606060" stroke-width="0.9" />
<rect x="217.80" y="275.50" width="5.0" height="5.0" rx="0.5" fill="#0000ff" stroke="#00004a" stroke-width="0.75"/>
</g>
<text x="366.9" y="183.2" font-family="Liberation Sans" font-size="14" fill="#1c1c1c" text-anchor="start" font-weight="normal" font-style="normal" textLength="35.9" lengthAdjust="spacingAndGlyphs" >d) dsr</text>
<rect x="289.5" y="195" width="121.8" height="90" fill="#ffffff" />
<line x1="289.5" y1="207.6" x2="411.3" y2="207.6" stroke="#c4c4c4" stroke-width="1" />
<line x1="287.5" y1="207.6" x2="289.5" y2="207.6" stroke="#888" stroke-width="0.8" />
<line x1="289.5" y1="219.6" x2="411.3" y2="219.6" stroke="#c4c4c4" stroke-width="1" />
<line x1="287.5" y1="219.6" x2="289.5" y2="219.6" stroke="#888" stroke-width="0.8" />
<line x1="289.5" y1="232.6" x2="411.3" y2="232.6" stroke="#c4c4c4" stroke-width="1" />
<line x1="287.5" y1="232.6" x2="289.5" y2="232.6" stroke="#888" stroke-width="0.8" />
<line x1="289.5" y1="245.3" x2="411.3" y2="245.3" stroke="#c4c4c4" stroke-width="1" />
<line x1="287.5" y1="245.3" x2="289.5" y2="245.3" stroke="#888" stroke-width="0.8" />
<line x1="289.5" y1="257.3" x2="411.3" y2="257.3" stroke="#c4c4c4" stroke-width="1" />
<line x1="287.5" y1="257.3" x2="289.5" y2="257.3" stroke="#888" stroke-width="0.8" />
<line x1="289.5" y1="270.3" x2="411.3" y2="270.3" stroke="#c4c4c4" stroke-width="1" />
<line x1="287.5" y1="270.3" x2="289.5" y2="270.3" stroke="#888" stroke-width="0.8" />
<line x1="289" y1="195" x2="411.5" y2="195" stroke="#8a8a8a" stroke-width="1.2" />
<line x1="411.3" y1="194.5" x2="411.3" y2="278" stroke="#9a9a9a" stroke-width="1.3" />
<line x1="289.5" y1="194.5" x2="289.5" y2="278" stroke="#444" stroke-width="1.1" />
<text x="287" y="200" font-family="Liberation Sans" font-size="10" fill="#333" text-anchor="end" font-weight="normal" font-style="normal" >4</text>
<text x="287" y="225.5" font-family="Liberation Sans" font-size="10" fill="#333" text-anchor="end" font-weight="normal" font-style="normal" >3</text>
<text x="287" y="251.5" font-family="Liberation Sans" font-size="10" fill="#333" text-anchor="end" font-weight="normal" font-style="normal" >2</text>
<text x="287" y="276" font-family="Liberation Sans" font-size="10" fill="#333" text-anchor="end" font-weight="normal" font-style="normal" >1</text>
<text x="0" y="0" font-family="Liberation Sans" font-size="10" fill="#333" text-anchor="middle" textLength="30.5" lengthAdjust="spacingAndGlyphs" transform="translate(275.5,236) rotate(-90)">dsr, %</text>
<line x1="293.2" y1="237.6" x2="293.2" y2="253.8" stroke="#606060" stroke-width="0.9" />
<line x1="291.3" y1="237.6" x2="295.09999999999997" y2="237.6" stroke="#606060" stroke-width="0.9" />
<line x1="291.3" y1="253.8" x2="295.09999999999997" y2="253.8" stroke="#606060" stroke-width="0.9" />
<rect x="290.70" y="245.00" width="5" height="5" rx="0.3" fill="#0000ff" stroke="#00004a" stroke-width="0.75"/>
<rect x="290.70" y="243.50" width="5" height="5" rx="0.3" fill="#ff0000" stroke="#4a0000" stroke-width="0.75"/>
<line x1="322.4" y1="232.2" x2="322.4" y2="247.9" stroke="#606060" stroke-width="0.9" />
<line x1="320.5" y1="232.2" x2="324.29999999999995" y2="232.2" stroke="#606060" stroke-width="0.9" />
<line x1="320.5" y1="247.9" x2="324.29999999999995" y2="247.9" stroke="#606060" stroke-width="0.9" />
<rect x="319.90" y="237.80" width="5" height="5" rx="0.3" fill="#0000ff" stroke="#00004a" stroke-width="0.75"/>
<rect x="319.90" y="242.00" width="5" height="5" rx="0.3" fill="#ff0000" stroke="#4a0000" stroke-width="0.75"/>
<line x1="350.4" y1="212.6" x2="350.4" y2="237.3" stroke="#606060" stroke-width="0.9" />
<line x1="348.5" y1="212.6" x2="352.29999999999995" y2="212.6" stroke="#606060" stroke-width="0.9" />
<line x1="348.5" y1="237.3" x2="352.29999999999995" y2="237.3" stroke="#606060" stroke-width="0.9" />
<rect x="347.90" y="222.80" width="5" height="5" rx="0.3" fill="#0000ff" stroke="#00004a" stroke-width="0.75"/>
<rect x="347.90" y="228.50" width="5" height="5" rx="0.3" fill="#ff0000" stroke="#4a0000" stroke-width="0.75"/>
<line x1="368.4" y1="209.4" x2="368.4" y2="225" stroke="#606060" stroke-width="0.9" />
<line x1="366.5" y1="209.4" x2="370.29999999999995" y2="209.4" stroke="#606060" stroke-width="0.9" />
<line x1="366.5" y1="225" x2="370.29999999999995" y2="225" stroke="#606060" stroke-width="0.9" />
<rect x="365.90" y="213.10" width="5" height="5" rx="0.3" fill="#0000ff" stroke="#00004a" stroke-width="0.75"/>
<rect x="365.90" y="220.80" width="5" height="5" rx="0.3" fill="#ff0000" stroke="#4a0000" stroke-width="0.75"/>
<rect x="417.2" y="199.4" width="27" height="17.2" fill="#555555" />
<rect x="416" y="198.3" width="27" height="17.1" fill="#ffffff" stroke="#222" stroke-width="0.7" rx="0.8"/>
<rect x="419.3" y="201" width="4.9" height="4.4" fill="#0000ff" stroke="#000050" stroke-width="0.4"/>
<rect x="419.3" y="208.1" width="4.9" height="4.4" fill="#ff0000" stroke="#500000" stroke-width="0.4"/>
<text x="426.8" y="205.3" font-family="Liberation Sans" font-size="5.8" fill="#334" text-anchor="start" font-weight="normal" font-style="normal" textLength="12.7" lengthAdjust="spacingAndGlyphs" stroke="#334" stroke-width="0.15">Meas</text>
<text x="426.8" y="212.3" font-family="Liberation Sans" font-size="5.8" fill="#433" text-anchor="start" font-weight="normal" font-style="normal" textLength="9.1" lengthAdjust="spacingAndGlyphs" stroke="#433" stroke-width="0.15">Sim</text></svg>
</body></html>
